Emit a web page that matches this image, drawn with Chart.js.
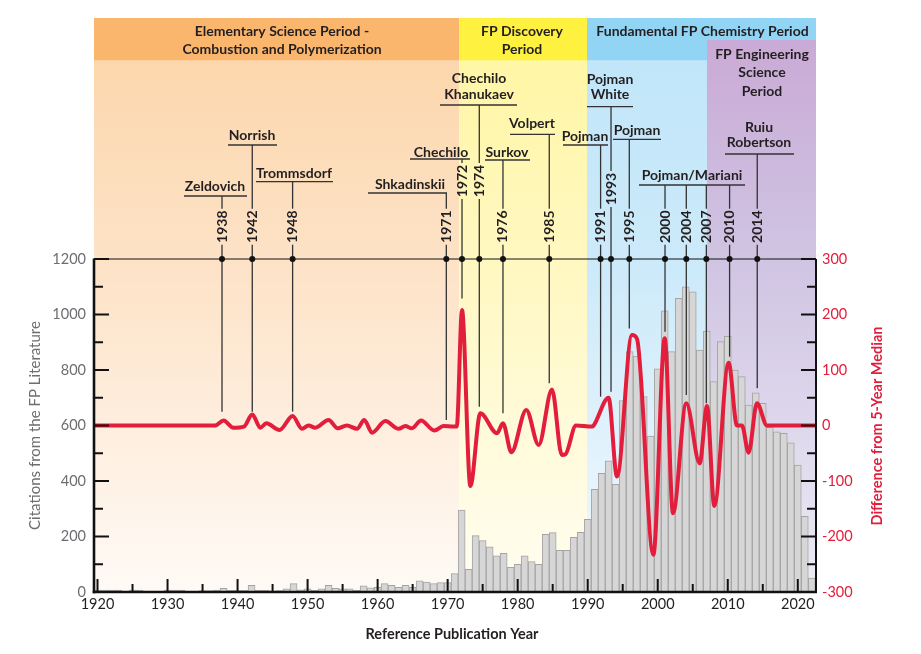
<!DOCTYPE html>
<html lang="en">
  <head>
    <meta charset="UTF-8" />
    <title>Frontal Polymerization Citations</title>
    <style>
      html,
      body {
        margin: 0;
        padding: 0;
        background: #fff;
        overflow: hidden;
      }
      canvas {
        display: block;
      }
    </style>
    <script src="https://cdn.jsdelivr.net/npm/chart.js"></script>
  </head>
  <body>
    <canvas id="citeChart" width="921" height="654"></canvas>
    <script>
      // citations per reference year (left axis)
      const years = [
        1920, 1921, 1922, 1923, 1924, 1925, 1926, 1927, 1928, 1929,
        1930, 1931, 1932, 1933, 1934, 1935, 1936, 1937, 1938, 1939,
        1940, 1941, 1942, 1943, 1944, 1945, 1946, 1947, 1948, 1949,
        1950, 1951, 1952, 1953, 1954, 1955, 1956, 1957, 1958, 1959,
        1960, 1961, 1962, 1963, 1964, 1965, 1966, 1967, 1968, 1969,
        1970, 1971, 1972, 1973, 1974, 1975, 1976, 1977, 1978, 1979,
        1980, 1981, 1982, 1983, 1984, 1985, 1986, 1987, 1988, 1989,
        1990, 1991, 1992, 1993, 1994, 1995, 1996, 1997, 1998, 1999,
        2000, 2001, 2002, 2003, 2004, 2005, 2006, 2007, 2008, 2009,
        2010, 2011, 2012, 2013, 2014, 2015, 2016, 2017, 2018, 2019,
        2020, 2021, 2022,
      ];
      const citations = [
        7, 7, 7, 7, 0, 7, 7, 0, 0, 0,
        7, 7, 7, 0, 0, 5, 5, 7, 13, 6,
        6, 6, 24, 6, 6, 4, 5, 11, 30, 8,
        11, 6, 11, 24, 13, 11, 11, 6, 22, 15,
        17, 30, 24, 17, 24, 17, 40, 36, 30, 34,
        34, 66, 295, 82, 203, 185, 163, 130, 139, 89,
        100, 130, 110, 100, 208, 214, 150, 150, 197, 215,
        262, 370, 428, 473, 388, 690, 866, 850, 704, 562,
        804, 1013, 866, 1058, 1100, 1082, 872, 940, 758, 902,
        921, 800, 776, 674, 718, 680, 593, 577, 572, 538,
        457, 273, 50,
      ];

      // difference from 5-year median (right axis), read at the curve's turning points
      const diffYears = [
        1919.5, 1936.8, 1938.0, 1939.4, 1940.9, 1942.1, 1943.25, 1944.1, 1946.0, 1947.86,
        1949.2, 1950.14, 1951.1, 1953.0, 1954.3, 1955.6, 1957.06, 1958.1, 1959.2, 1961.1,
        1963.0, 1963.95, 1964.9, 1966.2, 1968.1, 1969.4, 1970.85, 1971.3, 1972.05, 1973.24,
        1974.67, 1977.05, 1977.9, 1979.1, 1981.23, 1983.0, 1984.9, 1986.3, 1986.8, 1988.33,
        1990.6, 1990.84, 1992.98, 1994.18, 1996.32, 1997.04, 1999.37, 2001.0, 2002.18, 2004.08,
        2005.99, 2007.04, 2008.08, 2010.12, 2011.32, 2012.03, 2012.97, 2014.17, 2015.6, 2022.6,
      ];
      const diffValues = [
        0, 0, 9, -4, -2, 20, -4, 4, -8, 17,
        -6, 0, -4, 10, -5, 0, -6, 10, -13, 8,
        -6, -1, -5, 9, -9, -1, -2, -2, 208, -109,
        22, -14, 4, -48, 28, -35, 65, -53, -52, 0,
        -2, 0, 50, -92, 163, 156, -233, 157, -158, 40,
        -68, 35, -145, 113, 0, 0, -49, 40, 0, 0,
      ];

      const xTickYears = [1920, 1930, 1940, 1950, 1960, 1970, 1980, 1990, 2000, 2010, 2020];
      const xMinorYears = [1925, 1935, 1945, 1955, 1965, 1975, 1985, 1995, 2005, 2015];
      const leftTicks = [0, 200, 400, 600, 800, 1000, 1200];
      const leftMinor = [100, 300, 500, 700, 900, 1100];
      const rightTicks = [-300, -200, -100, 0, 100, 200, 300];
      const rightMinor = [-250, -150, -50, 50, 150, 250];

      // milestone markers: x position, year label, where the drop line meets the curve
      const markYears = [
        1937.78, 1942.1, 1947.86, 1969.81, 1972.05, 1974.52, 1977.9, 1984.51,
        1991.84, 1993.33, 1995.94, 2001.04, 2004.08, 2006.94, 2010.26, 2014.21,
      ];
      const markLabels = [
        "1938", "1942", "1948", "1971", "1972", "1974", "1976", "1985",
        "1991", "1993", "1995", "2000", "2004", "2007", "2010", "2014",
      ];
      const markEnds = [25, 25, 25, 10, 229, 34, 22, 76, 52, 61, 175, 169, 55, 40, 124, 67];
      const markTag = [0, 1, 2, 3, 4, 5, 6, 7, 8, 9, 10, 11, 11, 11, 11, 12];
      const markLabelY = [
        226.7, 226.7, 226.7, 226.7, 181, 181, 226.7, 226.7,
        226.7, 189, 226.7, 226.7, 226.7, 226.7, 226.7, 226.7,
      ];

      const nameTags = [
        { lines: ["Zeldovich"], cx: 215, cy: 186, ul: 196, ux: [184, 247] },
        { lines: ["Norrish"], cx: 252, cy: 135.5, ul: 145, ux: [228, 277] },
        { lines: ["Trommsdorf"], cx: 294, cy: 173, ul: 181.7, ux: [256, 333] },
        { lines: ["Shkadinskii"], cx: 410, cy: 184, ul: 193, ux: [368, 447] },
        { lines: ["Chechilo"], cx: 441, cy: 152, ul: 159, ux: [410, 470] },
        { lines: ["Chechilo", "Khanukaev"], cx: 479, cy: 78.5, ul: 105, ux: [440, 517] },
        { lines: ["Surkov"], cx: 507, cy: 152.5, ul: 160, ux: [485, 530] },
        { lines: ["Volpert"], cx: 532, cy: 123, ul: 134.3, ux: [510, 555] },
        { lines: ["Pojman"], cx: 585, cy: 136, ul: 145, ux: [563, 608] },
        { lines: ["Pojman", "White"], cx: 610, cy: 79, ul: 106.7, ux: [587, 633] },
        { lines: ["Pojman"], cx: 637, cy: 130, ul: 139.3, ux: [613, 661] },
        { lines: ["Pojman/Mariani"], cx: 692, cy: 175, ul: 185, ux: [639, 745] },
        { lines: ["Ruiu", "Robertson"], cx: 759, cy: 127, ul: 154, ux: [725, 794] },
      ];

      // research periods shaded behind the plot
      const bands = [
        {
          from: 1919.5, to: 1971.66, top: 18, headBottom: 60.7, head: "#fbb66e",
          body: [[0, "#fcd7ad"], [0.4, "#fde3c8"], [1, "#fffaf6"]],
          title: ["Elementary Science Period -", "Combustion and Polymerization"], tx: 282, ty: 31.7,
        },
        {
          from: 1971.66, to: 1989.9, top: 18, headBottom: 60.7, head: "#fff13f",
          body: [[0, "#fff6a6"], [0.4, "#fff8c2"], [1, "#fffdf1"]],
          title: ["FP Discovery", "Period"], tx: 522, ty: 31.7,
        },
        {
          from: 1989.9, to: 2022.6, top: 18, headBottom: 60.7, head: "#92d4f4",
          body: [[0, "#c1e6f9"], [0.4, "#cdeafa"], [1, "#f3f9fe"]],
          title: ["Fundamental FP Chemistry Period"], tx: 702.5, ty: 31.7,
        },
        {
          from: 2007.03, to: 2022.6, top: 40, headBottom: 40, head: null,
          body: [[0, "#caaad6"], [0.38, "#cfc3e2"], [1, "#ecebf5"]],
          title: ["FP Engineering", "Science", "Period"], tx: 762, ty: 54,
        },
      ];

      const TEXT = "#231f20";
      const RED = "#e31d3c";
      const GRAY = "#6d6e71";

      function line(ctx, x0, y0, x1, y1) {
        ctx.beginPath();
        ctx.moveTo(x0, y0);
        ctx.lineTo(x1, y1);
        ctx.stroke();
      }

      function vText(ctx, str, x, y) {
        ctx.save();
        ctx.translate(x, y);
        ctx.rotate(-Math.PI / 2);
        ctx.fillText(str, 0, 0);
        ctx.restore();
      }

      const backdrop = {
        id: "backdrop",
        beforeDraw(chart) {
          const { ctx, chartArea: a } = chart;
          const px = (v) => chart.scales.x.getPixelForValue(v);
          ctx.save();
          ctx.fillStyle = "#fff";
          ctx.fillRect(0, 0, chart.width, chart.height);
          bands.forEach((b) => {
            const x0 = px(b.from);
            const x1 = px(b.to);
            if (b.head) {
              ctx.fillStyle = b.head;
              ctx.fillRect(x0, b.top, x1 - x0, b.headBottom - b.top);
            }
            const g = ctx.createLinearGradient(0, b.headBottom, 0, a.bottom);
            b.body.forEach(([s, c]) => g.addColorStop(s, c));
            ctx.fillStyle = g;
            ctx.fillRect(x0, b.headBottom, x1 - x0, a.bottom - b.headBottom);
          });
          ctx.fillStyle = TEXT;
          ctx.font = "bold 14px Lato";
          ctx.textAlign = "center";
          ctx.textBaseline = "middle";
          bands.forEach((b) => {
            b.title.forEach((t, i) => {
              const step = b.title.length === 3 ? 18.5 : 17.6;
              ctx.fillText(t, b.tx, b.ty + i * step);
            });
          });
          ctx.restore();
        },
        afterDatasetDraw(chart, args) {
          // drop lines go over the bars but under the red curve
          if (args.index !== 1) return;
          const { ctx, chartArea: a } = chart;
          const x = chart.scales.x;
          const y2 = chart.scales.y2;
          ctx.save();
          ctx.strokeStyle = "#333";
          ctx.lineWidth = 1.3;
          markYears.forEach((yr, i) => {
            const px = x.getPixelForValue(yr);
            line(ctx, px, a.top, px, y2.getPixelForValue(markEnds[i]));
          });
          ctx.restore();
        },
        afterDraw(chart) {
          const { ctx, chartArea: a } = chart;
          const x = chart.scales.x;
          const y = chart.scales.y;
          const y2 = chart.scales.y2;
          ctx.save();
          ctx.strokeStyle = "#111";
          ctx.lineCap = "butt";

          // frame
          ctx.lineWidth = 1.2;
          line(ctx, a.left, a.top, a.right, a.top);
          ctx.lineWidth = 2;
          line(ctx, a.right, a.top, a.right, a.bottom);
          ctx.lineWidth = 2.6;
          line(ctx, a.left, a.top - 0.6, a.left, a.bottom + 1.3);
          line(ctx, a.left - 1.3, a.bottom, a.right + 1, a.bottom);

          // inward ticks
          ctx.lineWidth = 2;
          leftTicks.forEach((v) => line(ctx, a.left, y.getPixelForValue(v), a.left + 15, y.getPixelForValue(v)));
          leftMinor.forEach((v) => line(ctx, a.left, y.getPixelForValue(v), a.left + 9, y.getPixelForValue(v)));
          rightTicks.forEach((v) => line(ctx, a.right, y2.getPixelForValue(v), a.right - 15, y2.getPixelForValue(v)));
          rightMinor.forEach((v) => line(ctx, a.right, y2.getPixelForValue(v), a.right - 9, y2.getPixelForValue(v)));
          xTickYears.forEach((v) => line(ctx, x.getPixelForValue(v), a.bottom, x.getPixelForValue(v), a.bottom - 13));
          xMinorYears.forEach((v) => line(ctx, x.getPixelForValue(v), a.bottom, x.getPixelForValue(v), a.bottom - 8));

          // milestone stems above the plot, dots, year labels
          ctx.strokeStyle = "#333";
          ctx.lineWidth = 1.3;
          ctx.fillStyle = TEXT;
          ctx.font = "bold 14px Lato";
          ctx.textAlign = "center";
          ctx.textBaseline = "middle";
          markYears.forEach((yr, i) => {
            const px = x.getPixelForValue(yr);
            const tag = nameTags[markTag[i]];
            const ly = markLabelY[i];
            line(ctx, px, tag.ul, px, ly - 18);
            line(ctx, px, ly + 18, px, a.top);
            vText(ctx, markLabels[i], px, ly);
            ctx.beginPath();
            ctx.arc(px, a.top, 3, 0, Math.PI * 2);
            ctx.fillStyle = "#111";
            ctx.fill();
            ctx.fillStyle = TEXT;
          });

          // name tags with underline
          nameTags.forEach((t) => {
            t.lines.forEach((s, i) => ctx.fillText(s, t.cx, t.cy + i * 15.7));
            line(ctx, t.ux[0], t.ul, t.ux[1], t.ul);
          });

          // axis titles
          ctx.font = "15px Lato";
          ctx.fillStyle = GRAY;
          vText(ctx, "Citations from the FP Literature", 35, 425.5);
          ctx.font = "bold 14.5px Lato";
          ctx.fillStyle = RED;
          vText(ctx, "Difference from 5-Year Median", 877, 426);
          ctx.fillStyle = TEXT;
          ctx.font = "bold 14.5px Lato";
          ctx.fillText("Reference Publication Year", 452, 634);
          ctx.restore();
        },
      };

      new Chart(document.getElementById("citeChart").getContext("2d"), {
        type: "bar",
        data: {
          datasets: [
            {
              type: "line",
              label: "Difference from 5-Year Median",
              data: diffYears.map((yr, i) => ({ x: yr, y: diffValues[i] })),
              yAxisID: "y2",
              borderColor: RED,
              borderWidth: 4,
              pointRadius: 0,
              cubicInterpolationMode: "monotone",
              order: 0,
            },
            {
              type: "bar",
              label: "Citations",
              data: years.map((yr, i) => ({ x: yr, y: citations[i] })),
              yAxisID: "y",
              backgroundColor: "#d6d6d6",
              borderColor: "#a4a4a4",
              borderWidth: 1,
              barPercentage: 1,
              categoryPercentage: 1,
              order: 1,
            },
          ],
        },
        options: {
          responsive: false,
          animation: false,
          layout: { padding: { top: 259, left: 0, right: 0, bottom: 0 } },
          plugins: { legend: { display: false }, tooltip: { enabled: false } },
          scales: {
            x: {
              type: "linear",
              min: 1919.5,
              max: 2022.6,
              offset: false,
              grid: { display: false, drawTicks: false },
              border: { display: false },
              afterBuildTicks: (s) => {
                s.ticks = xTickYears.map((v) => ({ value: v }));
              },
              afterFit: (s) => {
                s.height = 62;
              },
              ticks: {
                color: TEXT,
                font: { family: "Lato", size: 14.5 },
                padding: 4,
                maxRotation: 0,
                callback: (v) => String(v),
              },
            },
            y: {
              position: "left",
              min: 0,
              max: 1200,
              grid: { display: false, drawTicks: false },
              border: { display: false },
              afterBuildTicks: (s) => {
                s.ticks = leftTicks.map((v) => ({ value: v }));
              },
              afterFit: (s) => {
                s.width = 94;
              },
              ticks: {
                color: GRAY,
                font: { family: "Lato", size: 14.5 },
                padding: 8,
                callback: (v) => String(v),
              },
            },
            y2: {
              position: "right",
              min: -300,
              max: 300,
              grid: { display: false, drawTicks: false },
              border: { display: false },
              afterBuildTicks: (s) => {
                s.ticks = rightTicks.map((v) => ({ value: v }));
              },
              afterFit: (s) => {
                s.width = 105;
              },
              ticks: {
                color: RED,
                font: { family: "Lato", size: 14.5 },
                padding: 6,
                callback: (v) => String(v),
              },
            },
          },
        },
        plugins: [backdrop],
      });
    </script>
  </body>
</html>
